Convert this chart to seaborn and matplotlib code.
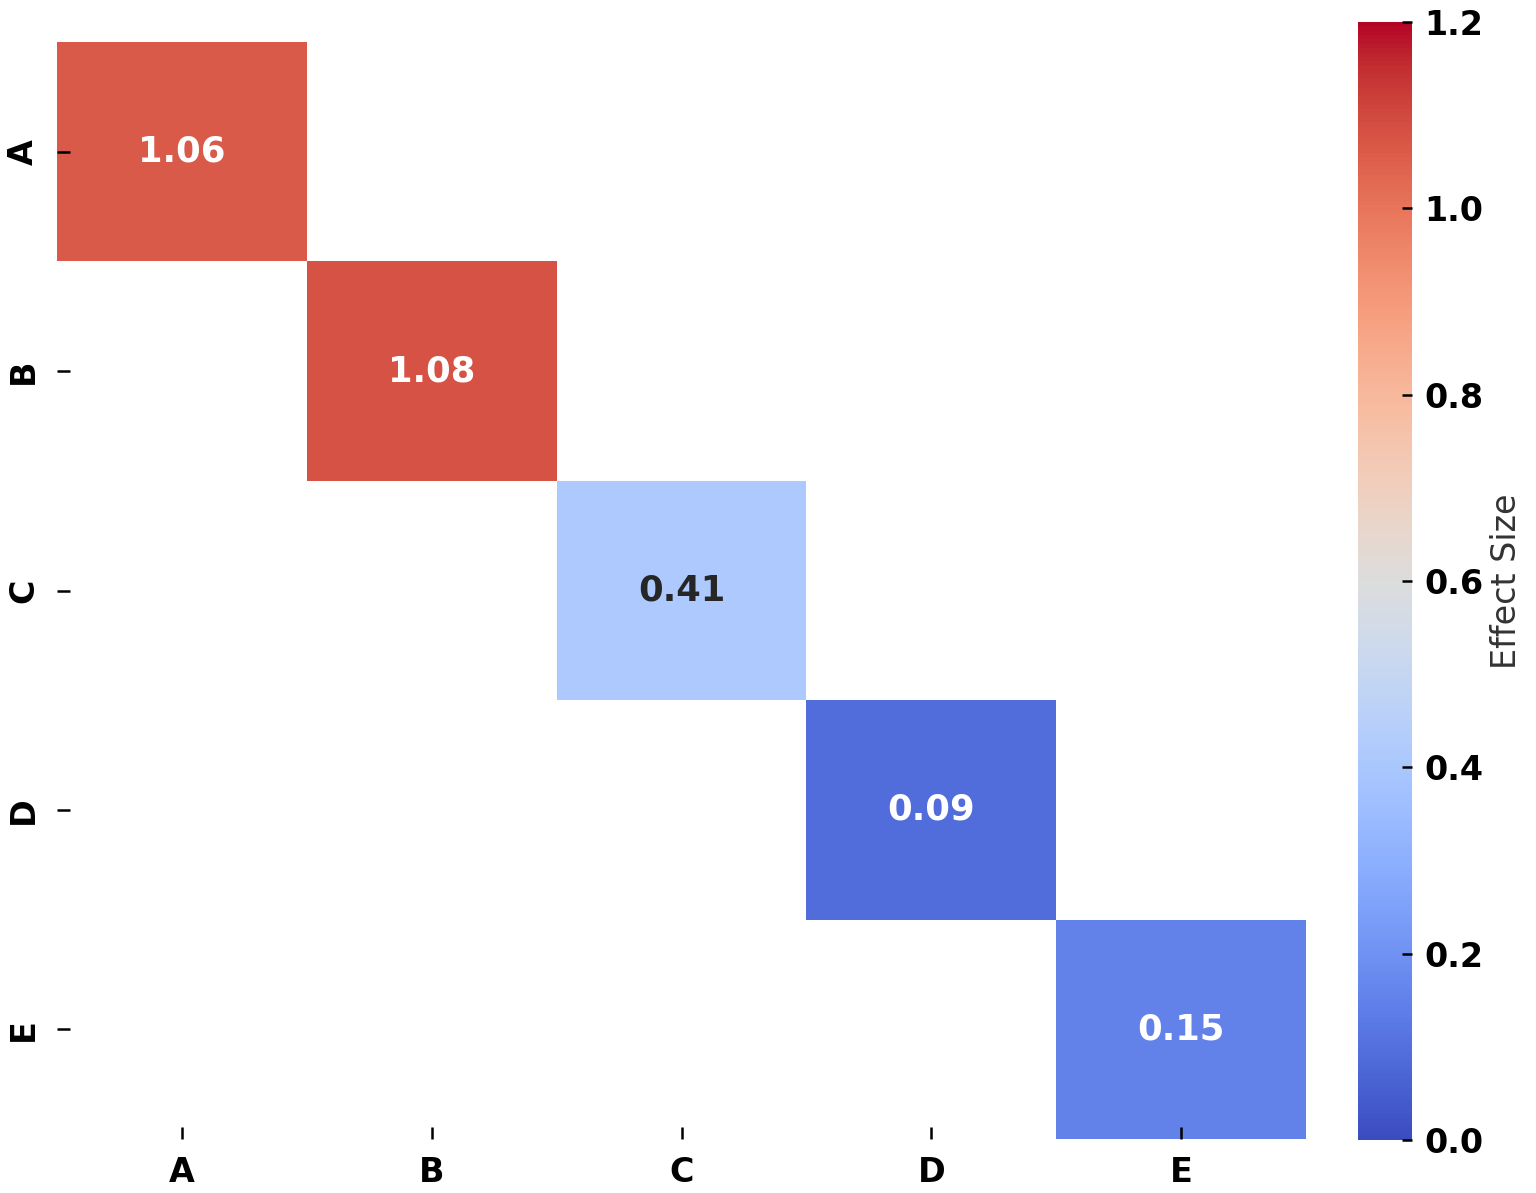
import numpy as np
import pandas as pd
import seaborn as sns
import matplotlib.pyplot as plt

groups = ["A", "B", "C", "D", "E"]
effect_sizes = [1.06, 1.08, 0.41, 0.09, 0.15]

mat = pd.DataFrame(np.diag(effect_sizes), index=groups, columns=groups)
mask = ~np.eye(len(groups), dtype=bool)

sns.set_theme(style="white")
plt.rcParams["font.family"] = ["DejaVu Sans"]
plt.rcParams["text.color"] = "black"
plt.rcParams["xtick.color"] = "black"
plt.rcParams["ytick.color"] = "black"

W, H, DPI = 1536, 1193, 150
fig = plt.figure(figsize=(W / DPI, H / DPI), dpi=DPI)
ax = fig.add_axes([57 / W, 1 - 1139 / H, 1249 / W, 1097 / H])
cax = fig.add_axes([1358 / W, 1 - 1140 / H, 54 / W, 1118 / H])

sns.heatmap(mat, mask=mask, cmap="coolwarm", vmin=0, vmax=1.2,
            annot=True, fmt=".2f",
            annot_kws={"fontsize": 17, "fontweight": "bold"},
            ax=ax, cbar_ax=cax, cbar_kws={"label": "Effect Size"})
ax.set_axisbelow(False)

ax.tick_params(axis="both", direction="in", length=6, width=1.2,
               color="black", labelcolor="black", labelsize=16, pad=8)
ax.tick_params(axis="x", bottom=True)
ax.tick_params(axis="y", left=True)
for lab in ax.get_xticklabels():
    lab.set_fontweight("bold")
    lab.set_rotation(0)
for lab in ax.get_yticklabels():
    lab.set_fontweight("bold")
    lab.set_rotation(90)
    lab.set_va("center")

cax.set_axisbelow(False)
cax.tick_params(direction="in", length=5, width=1.2, color="black",
                labelcolor="black", labelsize=16, right=True, pad=6)
cax.set_yticks([0, 0.2, 0.4, 0.6, 0.8, 1.0, 1.2])
cax.set_yticklabels(["0.0", "0.2", "0.4", "0.6", "0.8", "1.0", "1.2"],
                    fontweight="bold", fontsize=16)
cax.yaxis.label.set_size(16)
cax.yaxis.label.set_color("#333333")
cax.yaxis.labelpad = 3

fig.savefig("out.png", dpi=DPI)
